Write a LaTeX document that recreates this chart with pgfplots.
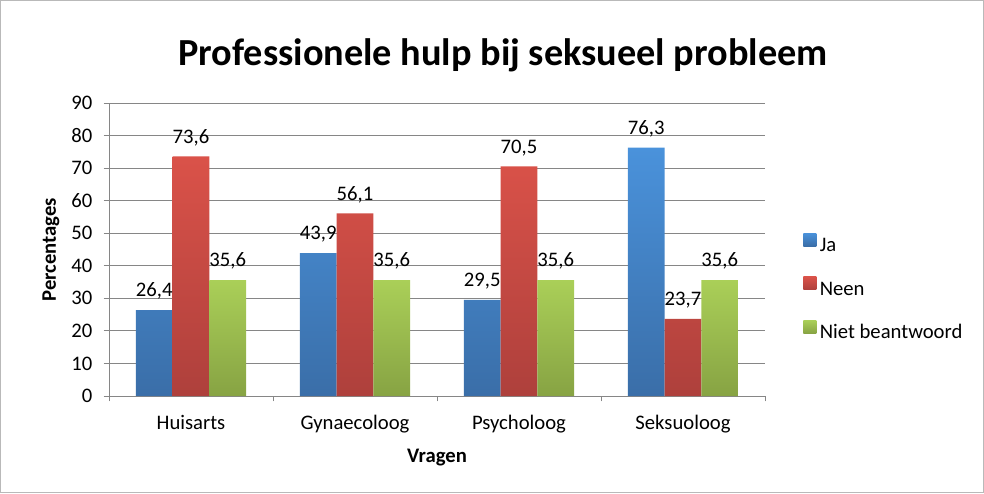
\documentclass[border=0pt]{standalone}
\usepackage{pgfplots}
\pgfplotsset{compat=1.18}
\usepackage{fontspec}
\setmainfont{Carlito}
\definecolor{axgray}{HTML}{868686}
\definecolor{jaT}{HTML}{4A92DB}
\definecolor{jaB}{HTML}{3A6EA8}
\definecolor{neT}{HTML}{DA5249}
\definecolor{neB}{HTML}{AE403C}
\definecolor{niT}{HTML}{AACF58}
\definecolor{niB}{HTML}{87A343}
\newcommand{\fs}{\fontsize{15.5}{18}\selectfont}
\begin{document}
\begin{tikzpicture}[x=0.75pt,y=0.75pt]
\draw[gray!55, line width=0.75pt] (0.5,0.5) rectangle (983.5,492.5);
\node[font=\bfseries\fontsize{28.7}{32}\selectfont] at (503,438) {Professionele hulp bij seksueel probleem};
\begin{axis}[
  at={(81.75pt,72.75pt)}, anchor=south west,
  scale only axis, width=492pt, height=219.75pt,
  ybar=0pt, bar width=0.224,
  xmin=-0.5, xmax=3.5, ymin=0, ymax=90,
  xtick={0,1,2,3},
  xticklabels={Huisarts,Gynaecoloog,Psycholoog,Seksuoloog},
  minor xtick={-0.5,0.5,1.5,2.5,3.5},
  ytick={0,10,...,90},
  axis x line*=bottom, axis y line*=left,
  axis line style={axgray, line width=0.75pt, -},
  ymajorgrids, grid style={axgray, line width=0.75pt},
  major x tick style={draw=none},
  minor x tick style={axgray, line width=0.75pt},
  major y tick style={axgray, line width=0.75pt},
  tick align=outside, major tick length=4pt, minor tick length=4pt,
  ticklabel style={font=\fs},
  /pgf/number format/assume math mode=true,
  xticklabel style={anchor=base, yshift=-20.75pt},
  yticklabel style={xshift=-5pt},
  xlabel={\textbf{Vragen}}, ylabel={\textbf{Percentages}},
  label style={font=\fs},
  xlabel style={at={(axis description cs:0.5,-0.2253)}, anchor=base},
  ylabel style={at={(axis description cs:-0.0884,0.5)}, anchor=center},
  nodes near coords,
  nodes near coords style={font=\fs, yshift=4.5pt,
    /pgf/number format/fixed, /pgf/number format/fixed zerofill,
    /pgf/number format/precision=1, /pgf/number format/use comma},
  legend style={at={(1.058,0.369)}, anchor=west, draw=none, fill=none,
    inner sep=0pt, font=\fs, row sep=16pt, column sep=0pt,
    nodes={inner sep=0pt, text height=11pt, text depth=3pt},
    cells={anchor=west}},
  legend image code/.code={\path[#1] (0pt,0pt) rectangle (9.75pt,9.75pt);},
]
\addplot[draw=none, top color=jaT, bottom color=jaB] coordinates {(0,26.4) (1,43.9) (2,29.5) (3,76.3)};
\addplot[draw=none, top color=neT, bottom color=neB] coordinates {(0,73.6) (1,56.1) (2,70.5) (3,23.7)};
\addplot[draw=none, top color=niT, bottom color=niB] coordinates {(0,35.6) (1,35.6) (2,35.6) (3,35.6)};
\legend{\,Ja,\,Neen,\,Niet beantwoord}
\end{axis}
\pgfresetboundingbox
\useasboundingbox (0,0) rectangle (984,493);
\end{tikzpicture}
\end{document}
